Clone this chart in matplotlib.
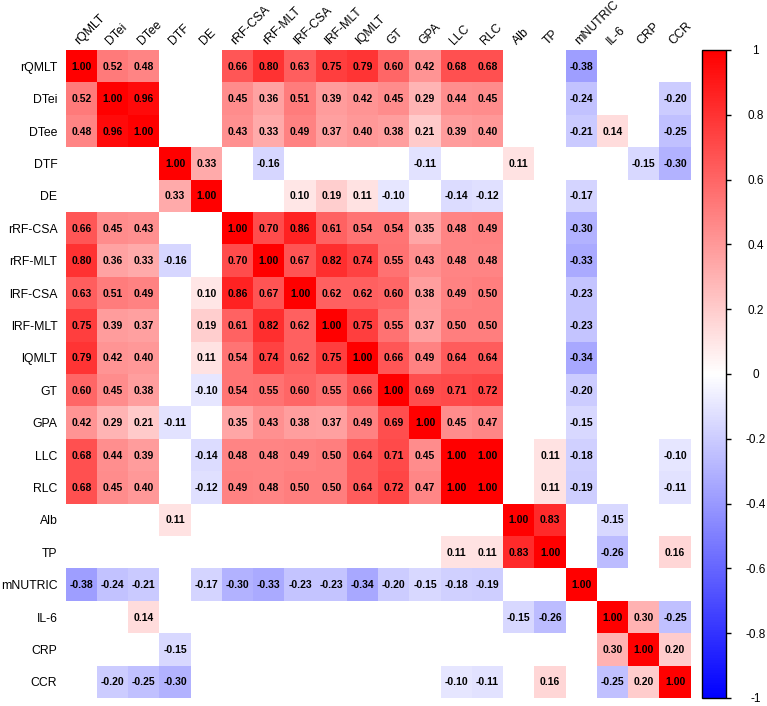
import numpy as np
import matplotlib
matplotlib.use("Agg")
import matplotlib.pyplot as plt
from matplotlib.colors import LinearSegmentedColormap

plt.rcParams['font.family'] = ['Liberation Sans', 'DejaVu Sans']

labels = ["rQMLT", "DTei", "DTee", "DTF", "DE", "rRF-CSA", "rRF-MLT", "lRF-CSA",
          "lRF-MLT", "lQMLT", "GT", "GPA", "LLC", "RLC", "Alb", "TP", "mNUTRIC",
          "IL-6", "CRP", "CCR"]

N = None
r_rQMLT   = [1.00, 0.52, 0.48, N, N, 0.66, 0.80, 0.63, 0.75, 0.79, 0.60, 0.42, 0.68, 0.68, N, N, -0.38, N, N, N]
r_DTei    = [0.52, 1.00, 0.96, N, N, 0.45, 0.36, 0.51, 0.39, 0.42, 0.45, 0.29, 0.44, 0.45, N, N, -0.24, N, N, -0.20]
r_DTee    = [0.48, 0.96, 1.00, N, N, 0.43, 0.33, 0.49, 0.37, 0.40, 0.38, 0.21, 0.39, 0.40, N, N, -0.21, 0.14, N, -0.25]
r_DTF     = [N, N, N, 1.00, 0.33, N, -0.16, N, N, N, N, -0.11, N, N, 0.11, N, N, N, -0.15, -0.30]
r_DE      = [N, N, N, 0.33, 1.00, N, N, 0.10, 0.19, 0.11, -0.10, N, -0.14, -0.12, N, N, -0.17, N, N, N]
r_rRFCSA  = [0.66, 0.45, 0.43, N, N, 1.00, 0.70, 0.86, 0.61, 0.54, 0.54, 0.35, 0.48, 0.49, N, N, -0.30, N, N, N]
r_rRFMLT  = [0.80, 0.36, 0.33, -0.16, N, 0.70, 1.00, 0.67, 0.82, 0.74, 0.55, 0.43, 0.48, 0.48, N, N, -0.33, N, N, N]
r_lRFCSA  = [0.63, 0.51, 0.49, N, 0.10, 0.86, 0.67, 1.00, 0.62, 0.62, 0.60, 0.38, 0.49, 0.50, N, N, -0.23, N, N, N]
r_lRFMLT  = [0.75, 0.39, 0.37, N, 0.19, 0.61, 0.82, 0.62, 1.00, 0.75, 0.55, 0.37, 0.50, 0.50, N, N, -0.23, N, N, N]
r_lQMLT   = [0.79, 0.42, 0.40, N, 0.11, 0.54, 0.74, 0.62, 0.75, 1.00, 0.66, 0.49, 0.64, 0.64, N, N, -0.34, N, N, N]
r_GT      = [0.60, 0.45, 0.38, N, -0.10, 0.54, 0.55, 0.60, 0.55, 0.66, 1.00, 0.69, 0.71, 0.72, N, N, -0.20, N, N, N]
r_GPA     = [0.42, 0.29, 0.21, -0.11, N, 0.35, 0.43, 0.38, 0.37, 0.49, 0.69, 1.00, 0.45, 0.47, N, N, -0.15, N, N, N]
r_LLC     = [0.68, 0.44, 0.39, N, -0.14, 0.48, 0.48, 0.49, 0.50, 0.64, 0.71, 0.45, 1.00, 1.00, N, 0.11, -0.18, N, N, -0.10]
r_RLC     = [0.68, 0.45, 0.40, N, -0.12, 0.49, 0.48, 0.50, 0.50, 0.64, 0.72, 0.47, 1.00, 1.00, N, 0.11, -0.19, N, N, -0.11]
r_Alb     = [N, N, N, 0.11, N, N, N, N, N, N, N, N, N, N, 1.00, 0.83, N, -0.15, N, N]
r_TP      = [N, N, N, N, N, N, N, N, N, N, N, N, 0.11, 0.11, 0.83, 1.00, N, -0.26, N, 0.16]
r_mNUTRIC = [-0.38, -0.24, -0.21, N, -0.17, -0.30, -0.33, -0.23, -0.23, -0.34, -0.20, -0.15, -0.18, -0.19, N, N, 1.00, N, N, N]
r_IL6     = [N, N, 0.14, N, N, N, N, N, N, N, N, N, N, N, -0.15, -0.26, N, 1.00, 0.30, -0.25]
r_CRP     = [N, N, N, -0.15, N, N, N, N, N, N, N, N, N, N, N, N, N, 0.30, 1.00, 0.20]
r_CCR     = [N, -0.20, -0.25, -0.30, N, N, N, N, N, N, N, N, -0.10, -0.11, N, 0.16, N, -0.25, 0.20, 1.00]

rows = [r_rQMLT, r_DTei, r_DTee, r_DTF, r_DE, r_rRFCSA, r_rRFMLT, r_lRFCSA, r_lRFMLT,
        r_lQMLT, r_GT, r_GPA, r_LLC, r_RLC, r_Alb, r_TP, r_mNUTRIC, r_IL6, r_CRP, r_CCR]

mat = np.array([[np.nan if v is None else v for v in r] for r in rows], dtype=float)
n = len(labels)

cmap = LinearSegmentedColormap.from_list("bwr2", [(0, 0, 1), (1, 1, 1), (1, 0, 0)])

W, H = 767, 706
fig = plt.figure(figsize=(W / 100, H / 100), dpi=100)
ax = fig.add_axes([65.7 / W, 1 - 698 / H, 625 / W, 648 / H])

masked = np.ma.masked_invalid(mat)
mesh = ax.pcolormesh(np.arange(n + 1), np.arange(n + 1), masked, cmap=cmap,
                     vmin=-1, vmax=1)
ax.set_xlim(0, n)
ax.set_ylim(n, 0)
for s in ax.spines.values():
    s.set_visible(False)
ax.set_xticks([])
ax.set_yticks(np.arange(n) + 0.5)
ax.set_yticklabels(labels, fontsize=8.8)
ax.tick_params(axis='y', length=0, pad=6)

for i in range(n):
    for j in range(n):
        v = mat[i, j]
        if not np.isnan(v):
            ax.text(j + 0.5, i + 0.52, f"{v:.2f}", ha='center', va='center',
                    fontsize=7.5, fontweight='bold', color='black')

for j, lab in enumerate(labels):
    ax.text(j + 0.5, -0.08, lab, rotation=45, rotation_mode='anchor',
            ha='left', va='bottom', fontsize=8.8)

cax = fig.add_axes([701.7 / W, 1 - 698 / H, 24 / W, 648 / H])
cb = fig.colorbar(mesh, cax=cax)
ticks = np.round(np.arange(-1, 1.01, 0.2), 1)
cb.set_ticks(ticks)
cb.set_ticklabels(["-1" if t == -1 else "1" if t == 1 else "0" if abs(t) < 1e-9 else f"{t:.1f}" for t in ticks])
cb.ax.tick_params(labelsize=8.5, length=3.5, width=1, pad=18)
for t in cb.ax.get_yticklabels():
    t.set_horizontalalignment('center')
cb.outline.set_linewidth(1)

fig.savefig("out.png", dpi=100)
